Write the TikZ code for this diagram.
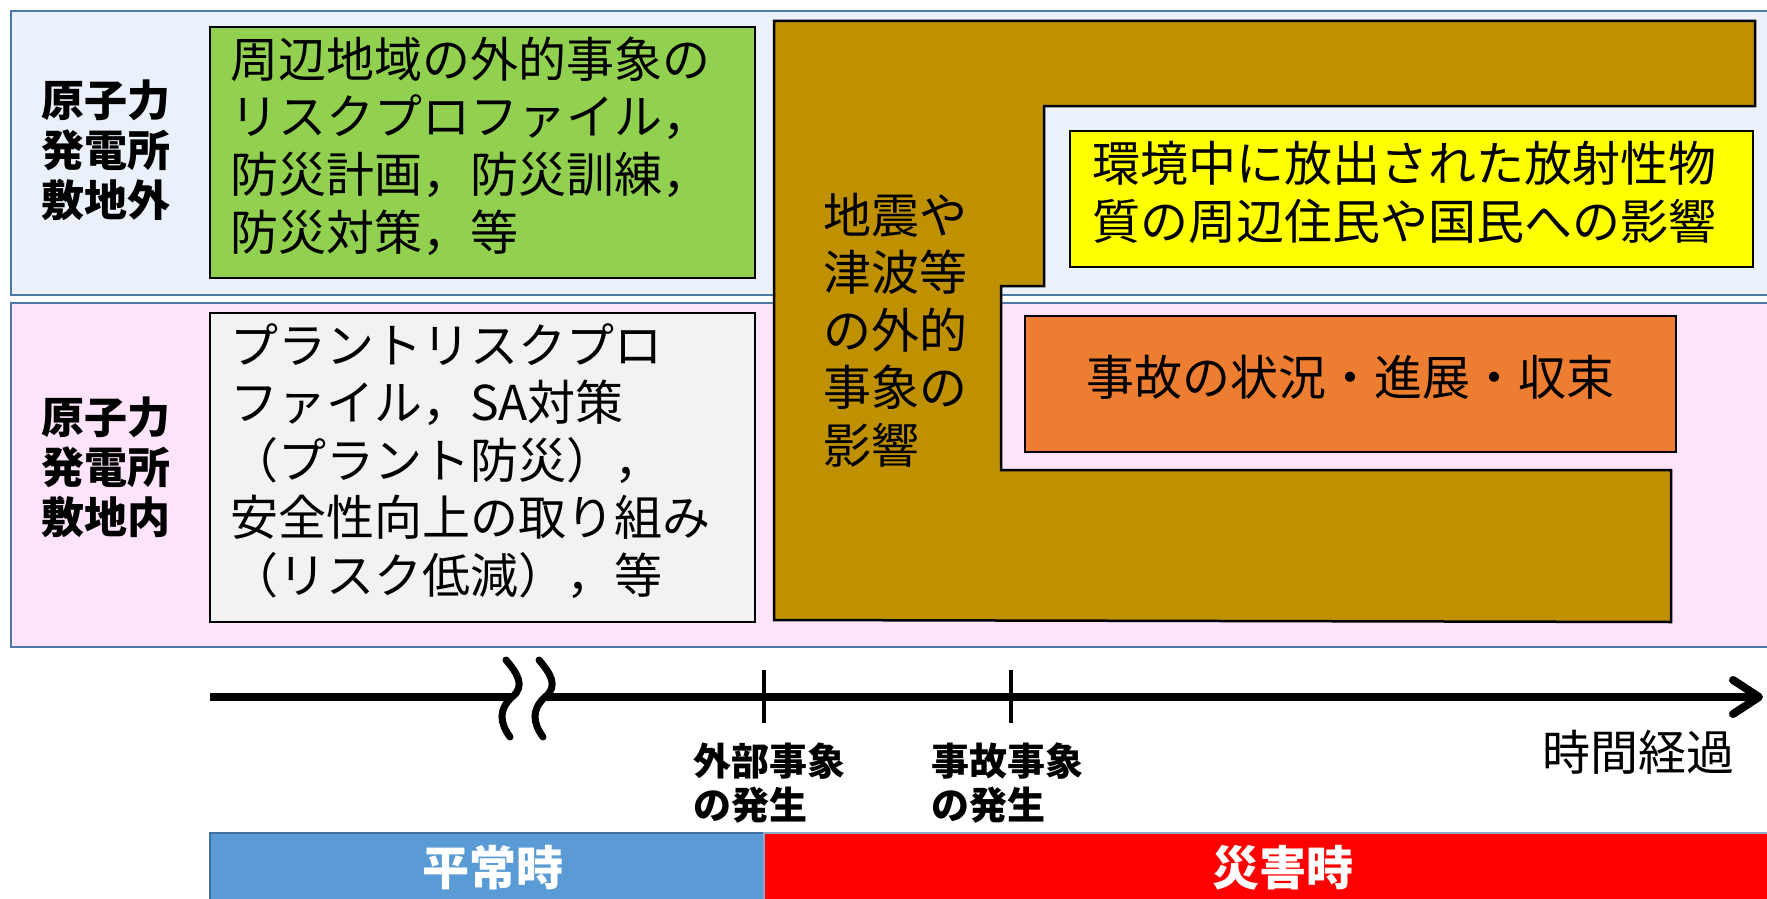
\documentclass[tikz,border=0pt]{standalone}
\usepackage{fontspec}
\setmainfont{Noto Sans CJK JP}
\usetikzlibrary{arrows.meta}
\definecolor{bandblue}{HTML}{EAF1FA}
\definecolor{bandpink}{HTML}{FDE4FB}
\definecolor{bandedge}{HTML}{4E79A7}
\definecolor{boxgreen}{HTML}{92D050}
\definecolor{boxgrey}{HTML}{F2F2F2}
\definecolor{boxbrown}{HTML}{BF9000}
\definecolor{boxyellow}{HTML}{FFFF00}
\definecolor{boxorange}{HTML}{ED7D31}
\definecolor{barblue}{HTML}{5B9BD5}
\definecolor{baredge}{HTML}{41719C}
\definecolor{barred}{HTML}{FF0000}
\tikzset{
  band/.style={draw=bandedge, line width=2.5pt},
  box/.style={draw=black, line width=1.8pt, inner sep=0pt},
  bigtxt/.style={inner sep=0pt, align=left, font=\fontsize{48}{57.6}\selectfont},
  sidelabel/.style={inner sep=0pt, align=center, font=\fontsize{43}{50}\selectfont\bfseries},
  evlabel/.style={inner sep=0pt, align=left, font=\fontsize{38}{44}\selectfont\bfseries},
  bartxt/.style={text=white, font=\fontsize{47}{50}\selectfont\bfseries},
  axis/.style={line width=8pt},
  breakmark/.style={line width=7pt, line cap=round},
  tick/.style={line width=4.5pt}
}
\begin{document}
\begin{tikzpicture}[x=1pt,y=-1pt]
\useasboundingbox (0,0) rectangle (1767,899);
\clip (0,0) rectangle (1767,899);
\fill[white] (0,0) rectangle (1767,899);

% bands
\draw[band, fill=bandblue] (11,11) rectangle (1800,295);
\draw[band, fill=bandpink] (11,303) rectangle (1800,647);

% side labels
\node[sidelabel] (outside) at (106,150) {原子力\\発電所\\敷地外};
\node[sidelabel] (inside) at (106,467) {原子力\\発電所\\敷地内};

% left boxes
\node[box, fill=boxgreen, minimum width=545pt, minimum height=251pt] (green) at (482.5,152.5) {};
\node[bigtxt, anchor=west] (greentxt) at (230,146) {周辺地域の外的事象の\\リスクプロファイル，\\防災計画，防災訓練，\\防災対策，等};
\node[box, fill=boxgrey, minimum width=545pt, minimum height=309pt] (grey) at (482.5,467.5) {};
\node[bigtxt, anchor=west] (greytxt) at (230,461) {プラントリスクプロ\\ファイル，SA対策\\（プラント防災），\\安全性向上の取り組み\\（リスク低減），等};

% brown shape
\draw[fill=boxbrown, draw=black, line width=2.5pt, line join=miter]
  (774,21) -- (1755,21) -- (1755,106) -- (1044,106) -- (1044,286) -- (1001,286)
  -- (1001,470) -- (1671,470) -- (1671,622) -- (774,620) -- cycle;
\node[bigtxt, anchor=west] (browntxt) at (823,330) {地震や\\津波等\\の外的\\事象の\\影響};

% right boxes
\node[box, fill=boxyellow, minimum width=683pt, minimum height=136pt] (yellow) at (1411.5,199) {};
\node[bigtxt, anchor=west] (yellowtxt) at (1092,192.5) {環境中に放出された放射性物\\質の周辺住民や国民への影響};
\node[box, fill=boxorange, minimum width=651pt, minimum height=136pt] (orange) at (1350.5,384) {};
\node[bigtxt] (orangetxt) at (1350.5,377) {事故の状況・進展・収束};

% time axis
\coordinate (ax0) at (210,697);
\coordinate (ax1) at (512,697);
\coordinate (ax2) at (545,697);
\coordinate (ax3) at (1763,697);
\draw[axis] (ax0) -- (ax1);
\draw[axis, -{Straight Barb[length=26pt,width=34pt,round]}] (ax2) -- (ax3);
\coordinate (b1s) at (506,660);
\coordinate (b1e) at (510,737);
\coordinate (b2s) at (539,660);
\coordinate (b2e) at (543,737);
\draw[breakmark] (b1s) .. controls (517,673) and (526,686) .. (ax1) .. controls (498,710) and (500,723) .. (b1e);
\draw[breakmark] (b2s) .. controls (550,673) and (559,686) .. (ax2) .. controls (531,710) and (533,723) .. (b2e);
\coordinate (t1a) at (764,670);
\coordinate (t1b) at (764,723);
\coordinate (t2a) at (1011,670);
\coordinate (t2b) at (1011,723);
\draw[tick] (t1a) -- (t1b);
\draw[tick] (t2a) -- (t2b);

\node[evlabel, anchor=west] (ev1) at (693,783.5) {外部事象\\の発生};
\node[evlabel, anchor=west] (ev2) at (931,783.5) {事故事象\\の発生};
\node[inner sep=0pt, font=\fontsize{48}{50}\selectfont, anchor=west] (elapsed) at (1542,752) {時間経過};

% bottom bars
\node[draw=baredge, line width=2pt, fill=barblue, minimum width=554pt, minimum height=72pt, inner sep=0pt] (normal) at (487,869) {};
\node[draw=baredge!60, line width=1.5pt, fill=barred, minimum width=1026pt, minimum height=72pt, inner sep=0pt] (disaster) at (1277,869) {};
\node[bartxt] (normaltxt) at (493,868) {平常時};
\node[bartxt] (disastertxt) at (1283,868) {災害時};
\end{tikzpicture}
\end{document}
